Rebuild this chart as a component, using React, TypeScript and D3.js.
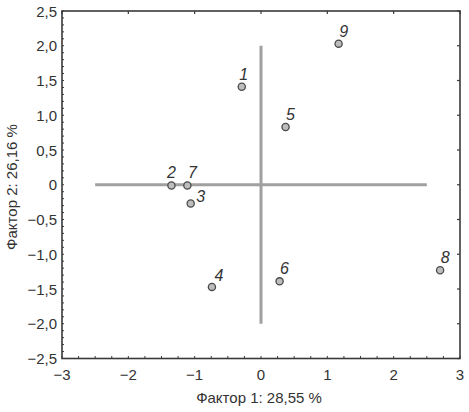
import React from "react";
import * as d3 from "d3";

const labels = ["1", "2", "3", "4", "5", "6", "7", "8", "9"];
const factor1 = [-0.29, -1.35, -1.06, -0.74, 0.37, 0.28, -1.11, 2.7, 1.17];
const factor2 = [1.41, -0.01, -0.27, -1.47, 0.83, -1.39, -0.01, -1.23, 2.03];
const xTicks = [-3, -2, -1, 0, 1, 2, 3];
const yTicks = [2.5, 2.0, 1.5, 1.0, 0.5, 0, -0.5, -1.0, -1.5, -2.0, -2.5];
const xTitle = "Фактор 1: 28,55 %";
const yTitle = "Фактор 2: 26,16 %";

// label offsets (dx, dy of text center relative to point)
const labelOffset: Record<string, [number, number]> = {
  "2": [0, -13],
  "3": [10, -8],
  "1": [2, -13],
  "4": [7, -12],
};

export default function App() {
  const W = 469, H = 412;
  const left = 62, right = 460, top = 11, bottom = 358.5;
  const x = d3.scaleLinear().domain([-3, 3]).range([left, right]);
  const y = d3.scaleLinear().domain([-2.5, 2.5]).range([bottom, top]);
  const fmt = (v: number) => (v === 0 ? "0" : v.toFixed(1).replace(".", ",").replace("-", "\u2212"));
  const fmtX = (v: number) => String(v).replace("-", "\u2212");
  const minorX = d3.range(-3, 3.001, 0.25);
  const minorY = d3.range(-2.5, 2.501, 0.1);
  const font = "'Liberation Sans', Arial, sans-serif";
  const axisColor = "#3a3a3a";
  const textColor = "#333";

  return (
    <svg width={W} height={H} style={{ position: "absolute", left: 0, top: 0, background: "#fff" }} fontFamily={font}>
      {/* crosshair */}
      <line x1={x(-2.5)} x2={x(2.5)} y1={y(0)} y2={y(0)} stroke="#a0a0a0" strokeWidth={3} />
      <line x1={x(0)} x2={x(0)} y1={y(2)} y2={y(-2)} stroke="#a0a0a0" strokeWidth={3} />

      {/* frame */}
      <rect x={left} y={top} width={right - left} height={bottom - top} fill="none" stroke={axisColor} strokeWidth={1.6} />

      {minorX.map((v, i) => (
        <line key={"mx" + i} x1={x(v)} x2={x(v)} y1={bottom} y2={bottom - 2.5} stroke={axisColor} strokeWidth={1} />
      ))}
      {minorY.map((v, i) => (
        <line key={"my" + i} x1={left} x2={left + 2} y1={y(v)} y2={y(v)} stroke={axisColor} strokeWidth={1} />
      ))}
      {xTicks.map((v, i) => (
        <line key={"tx" + i} x1={x(v)} x2={x(v)} y1={top} y2={top + 3} stroke={axisColor} strokeWidth={1.2} />
      ))}
      {yTicks.map((v, i) => (
        <line key={"ry" + i} x1={right} x2={right - 3} y1={y(v)} y2={y(v)} stroke={axisColor} strokeWidth={1.2} />
      ))}

      {xTicks.map((v, i) => (
        <text key={"xl" + i} x={x(v)} y={bottom + 21} textAnchor="middle" fontSize={15} fill={textColor}>
          {fmtX(v)}
        </text>
      ))}
      {yTicks.map((v, i) => (
        <text key={"yl" + i} x={left - 5} y={y(v) + 5.5} textAnchor="end" fontSize={15} fill={textColor}>
          {fmt(v)}
        </text>
      ))}

      <text x={259} y={403} textAnchor="middle" fontSize={15} fill={textColor}>{xTitle}</text>
      <text transform={`translate(17,${187}) rotate(-90)`} textAnchor="middle" fontSize={15} fill={textColor}>{yTitle}</text>

      {labels.map((l, i) => {
        const [dx, dy] = labelOffset[l] ?? [5, -13];
        return (
          <g key={"p" + l}>
            <circle cx={x(factor1[i])} cy={y(factor2[i])} r={3.6} fill="#bdbdbd" stroke="#4a4a4a" strokeWidth={1.3} />
            <text x={x(factor1[i]) + dx} y={y(factor2[i]) + dy + 6} textAnchor="middle" fontSize={16} fontStyle="italic" fill={textColor}>
              {l}
            </text>
          </g>
        );
      })}
    </svg>
  );
}
